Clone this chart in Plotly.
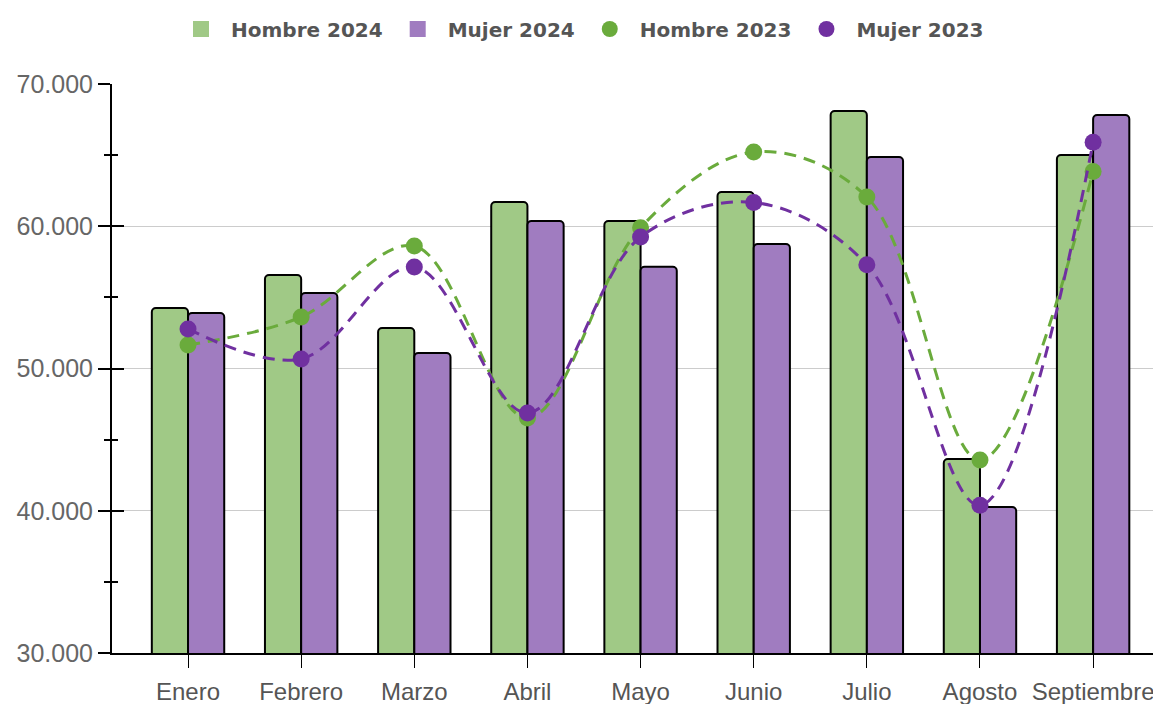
import plotly.graph_objects as go

months = ["Enero", "Febrero", "Marzo", "Abril", "Mayo", "Junio", "Julio", "Agosto", "Septiembre"]
hombre_2024 = [54250, 56570, 52850, 61700, 60370, 62400, 68100, 43640, 65010]
mujer_2024 = [53900, 55300, 51090, 60370, 57150, 58750, 64870, 40260, 67820]
hombre_2023 = [51650, 53620, 58610, 46520, 59900, 65220, 62060, 43570, 63850]
mujer_2023 = [52780, 50670, 57140, 46870, 59240, 61670, 57300, 40390, 65900]

GREEN_BAR = "#a0c986"
PURPLE_BAR = "#a07cc0"
GREEN_LINE = "#6aab3c"
PURPLE_LINE = "#7030a0"
FONT = "Liberation Sans"

# page body has an 8px default margin; figure size/margins compensate for it
W, H = 1153, 696

fig = go.Figure()

fig.add_trace(go.Bar(x=months, y=hombre_2024, name="Hombre 2024", marker=dict(color=GREEN_BAR, line=dict(color="black", width=2)), showlegend=False))
fig.add_trace(go.Bar(x=months, y=mujer_2024, name="Mujer 2024", marker=dict(color=PURPLE_BAR, line=dict(color="black", width=2)), showlegend=False))
fig.add_trace(go.Scatter(x=months, y=hombre_2023, name="Hombre 2023", mode="lines+markers",
                         line=dict(color=GREEN_LINE, width=3, dash="12px,8px", shape="spline", smoothing=1),
                         marker=dict(color=GREEN_LINE, size=17), showlegend=False))
fig.add_trace(go.Scatter(x=months, y=mujer_2023, name="Mujer 2023", mode="lines+markers",
                         line=dict(color=PURPLE_LINE, width=3, dash="12px,8px", shape="spline", smoothing=1),
                         marker=dict(color=PURPLE_LINE, size=17), showlegend=False))

# legend entries
for name, color, sym in [("Hombre 2024", GREEN_BAR, "square"), ("Mujer 2024", PURPLE_BAR, "square"),
                         ("Hombre 2023", GREEN_LINE, "circle"), ("Mujer 2023", PURPLE_LINE, "circle")]:
    fig.add_trace(go.Scatter(x=[months[0]], y=[None], mode="markers", name=name,
                             marker=dict(color=color, size=16, symbol=sym), showlegend=True, hoverinfo="skip"))

# overlay axis for inside ticks (crossing ticks)
fig.add_trace(go.Scatter(x=[months[0]], y=[None], yaxis="y2", mode="markers", showlegend=False, hoverinfo="skip"))

fig.update_layout(
    width=W, height=H,
    margin=dict(l=104, r=0, t=76, b=51, autoexpand=False),
    paper_bgcolor="white", plot_bgcolor="white",
    separators=",.",
    barmode="group", bargap=0.36, bargroupgap=0, barcornerradius=4,
    font=dict(family=FONT, color="#666666", size=22),
    legend=dict(orientation="h", xref="container", yref="container", x=(580 - 8) / W, xanchor="center",
                y=1 - 21 / H, yanchor="middle", font=dict(family="DejaVu Sans", size=20, color="#555555", weight="bold"),
                itemwidth=50, traceorder="normal"),
    xaxis=dict(range=[-0.672, 8.6], showline=True, linecolor="black", linewidth=2, automargin=False,
               ticks="outside", ticklen=13, tickcolor="black", tickwidth=1, ticklabelstandoff=3,
               tickfont=dict(size=24, color="#555555", family=FONT), showgrid=False, zeroline=False),
    yaxis=dict(range=[30000, 70000], dtick=10000, tickformat=",.0f", showline=True, linecolor="black", linewidth=2,
               automargin=False, ticks="outside", ticklen=12, tickcolor="black", tickwidth=2,
               minor=dict(dtick=5000, ticks="outside", ticklen=6, tickcolor="black", tickwidth=2, showgrid=False),
               showgrid=True, gridcolor="#cccccc", gridwidth=1, zeroline=False,
               tickfont=dict(size=25, color="#666666", family=FONT)),
    yaxis2=dict(range=[30000, 70000], dtick=10000, overlaying="y", side="left", showline=False, automargin=False,
                ticks="inside", ticklen=12, tickcolor="black", tickwidth=2, showticklabels=False,
                minor=dict(dtick=5000, ticks="inside", ticklen=6, tickcolor="black", tickwidth=2, showgrid=False),
                showgrid=False, zeroline=False),
)

fig.write_html("out.html")
